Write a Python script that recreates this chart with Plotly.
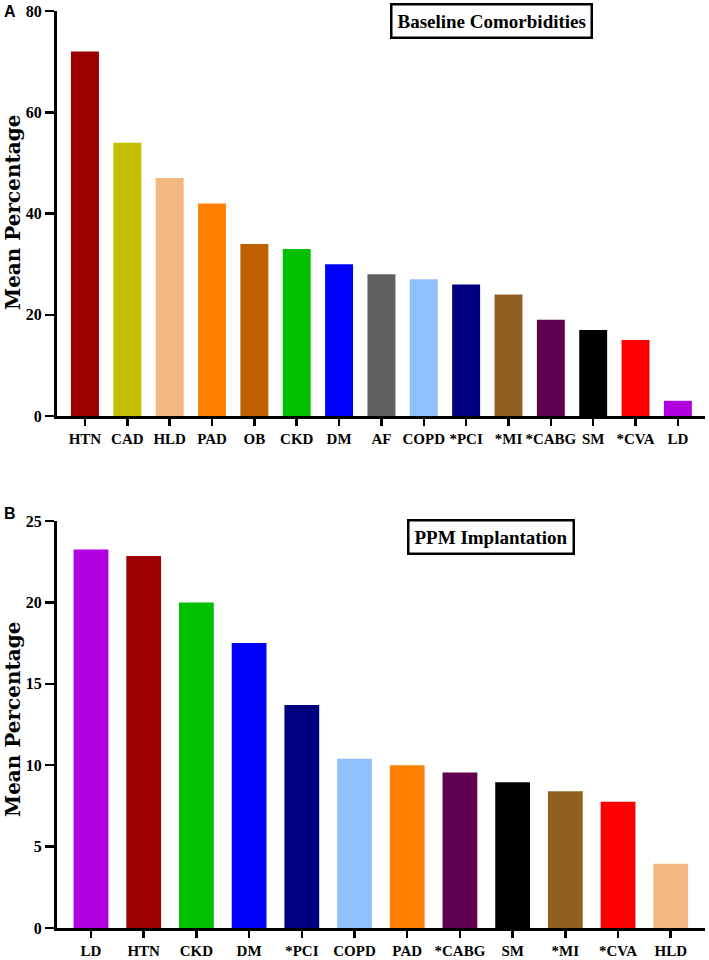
import plotly.graph_objects as go

# ---- data ----
top_categories = ["HTN", "CAD", "HLD", "PAD", "OB", "CKD", "DM", "AF", "COPD",
                  "*PCI", "*MI", "*CABG", "SM", "*CVA", "LD"]
top_values = [72, 54, 47, 42, 34, 33, 30, 28, 27, 26, 24, 19, 17, 15, 3]

bottom_categories = ["LD", "HTN", "CKD", "DM", "*PCI", "COPD", "PAD", "*CABG",
                     "SM", "*MI", "*CVA", "HLD"]
bottom_values = [23.25, 22.85, 20.0, 17.5, 13.7, 10.4, 10.0, 9.55, 8.95, 8.4, 7.75, 3.95]

top_ticks = [0, 20, 40, 60, 80]
bottom_ticks = [0, 5, 10, 15, 20, 25]

colors = {
    "HTN": "#9E0000", "CAD": "#C2C000", "HLD": "#F2B880", "PAD": "#FF8000",
    "OB": "#C06000", "CKD": "#00C000", "DM": "#0000FF", "AF": "#606060",
    "COPD": "#90C0FA", "*PCI": "#000080", "*MI": "#906020", "*CABG": "#600050",
    "SM": "#000000", "*CVA": "#FF0000", "LD": "#B000E0",
}

W, H = 709, 960
FONT = "Liberation Serif"

def px_x(x):
    return x / W

def px_y(y):
    return 1 - y / H

fig = go.Figure()
fig.add_trace(go.Bar(
    x=top_categories, y=top_values,
    marker=dict(color=[colors[c] for c in top_categories], line=dict(width=0)),
    xaxis="x", yaxis="y", showlegend=False,
))
fig.add_trace(go.Bar(
    x=bottom_categories, y=bottom_values,
    marker=dict(color=[colors[c] for c in bottom_categories], line=dict(width=0)),
    xaxis="x2", yaxis="y2", showlegend=False,
))

xtick_font = dict(family=FONT, size=15, color="black", weight="bold")
ytick_font = dict(family=FONT, size=16, color="black", weight="bold")
axis_common = dict(showline=True, linecolor="black", linewidth=3, ticks="outside",
                   tickcolor="black", tickwidth=2.5, showgrid=False, zeroline=False,
                   automargin=False, fixedrange=True)

fig.update_layout(
    width=W, height=H,
    margin=dict(l=0, r=0, t=0, b=0),
    paper_bgcolor="white", plot_bgcolor="white",
    bargap=0.34,
    xaxis=dict(domain=[px_x(57), px_x(705)], anchor="y", type="category",
               range=[-0.66, 14.64], ticklen=7, tickangle=0, tickfont=xtick_font,
               **axis_common),
    yaxis=dict(domain=[px_y(416), px_y(11)], anchor="x", range=[0, 80],
               tickvals=top_ticks, ticklen=9, tickfont=ytick_font, **axis_common),
    xaxis2=dict(domain=[px_x(57), px_x(705)], anchor="y2", type="category",
                range=[-0.645, 11.65], ticklen=7, tickangle=0, tickfont=xtick_font,
                **axis_common),
    yaxis2=dict(domain=[px_y(928), px_y(521)], anchor="x2", range=[0, 25],
                tickvals=bottom_ticks, ticklen=9, tickfont=ytick_font, **axis_common),
)

ann_font_title = dict(family=FONT, size=19, color="black", weight="bold")
ytitle_font = dict(family="DejaVu Serif", size=20, color="black", weight="bold")
panel_font = dict(family="Liberation Sans", size=16, color="black", weight="bold")

fig.add_annotation(text="Baseline Comorbidities", xref="paper", yref="paper",
                   x=px_x(491), y=px_y(21.5), showarrow=False, font=ann_font_title,
                   xanchor="center", yanchor="middle",
                   bordercolor="black", borderwidth=2.5, borderpad=5, bgcolor="white")
fig.add_annotation(text="PPM Implantation", xref="paper", yref="paper",
                   x=px_x(491), y=px_y(537), showarrow=False, font=ann_font_title,
                   xanchor="center", yanchor="middle",
                   bordercolor="black", borderwidth=2.5, borderpad=5, bgcolor="white")
fig.add_annotation(text="Mean Percentage", xref="paper", yref="paper",
                   x=px_x(13), y=px_y(213), showarrow=False, textangle=-90,
                   xanchor="center", yanchor="middle", font=ytitle_font)
fig.add_annotation(text="Mean Percentage", xref="paper", yref="paper",
                   x=px_x(13), y=px_y(720), showarrow=False, textangle=-90,
                   xanchor="center", yanchor="middle", font=ytitle_font)
fig.add_annotation(text="A", xref="paper", yref="paper",
                   x=px_x(10), y=px_y(11), showarrow=False, font=panel_font,
                   xanchor="center", yanchor="middle")
fig.add_annotation(text="B", xref="paper", yref="paper",
                   x=px_x(10), y=px_y(513), showarrow=False, font=panel_font,
                   xanchor="center", yanchor="middle")

fig.write_html("out.html",
               config={"displayModeBar": False, "staticPlot": True},
               post_script="document.body.style.margin='0';document.body.style.overflow='hidden';")
